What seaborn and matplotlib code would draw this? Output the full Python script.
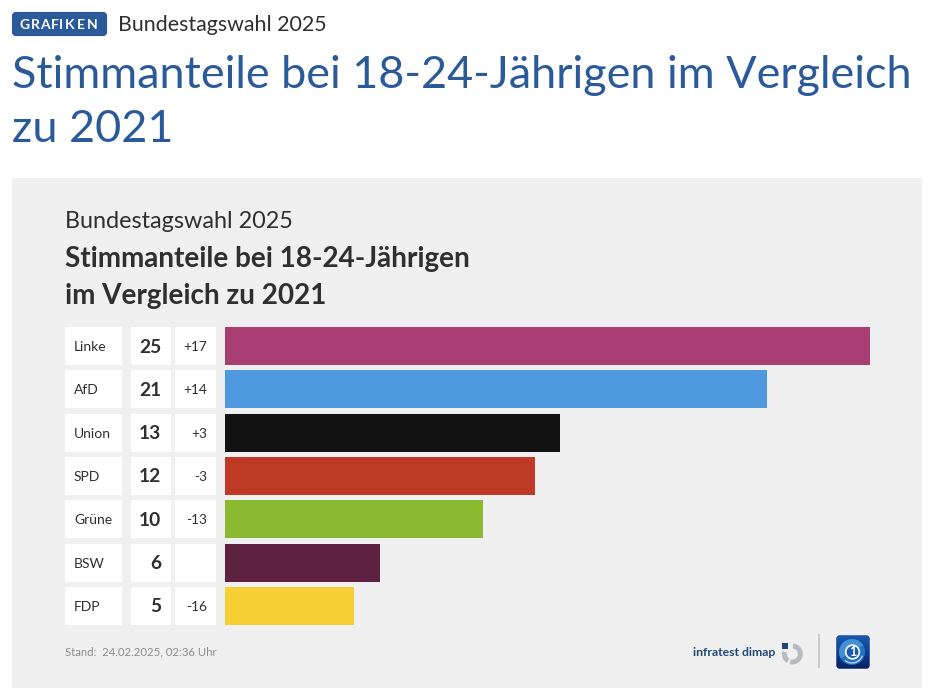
import numpy as np
import pandas as pd
import matplotlib
matplotlib.use("Agg")
import matplotlib.pyplot as plt
from matplotlib.patches import Rectangle, FancyBboxPatch, Circle, Wedge, Arc
import seaborn as sns

# Election results for 18-24 year olds
parties = ["Linke", "AfD", "Union", "SPD", "Grüne", "BSW", "FDP"]
shares = [25, 21, 13, 12, 10, 6, 5]
changes = ["+17", "+14", "+3", "-3", "-13", "", "-16"]
bar_colors = ["#a83e72", "#4f9ade", "#121212", "#bf3a25", "#8aba30", "#5e213f", "#f5cf33"]

overline = "Bundestagswahl 2025"
page_title = ["Stimmanteile bei 18-24-Jährigen im Vergleich", "zu 2021"]
chart_title = ["Stimmanteile bei 18-24-Jährigen", "im Vergleich zu 2021"]
stand = "Stand:  24.02.2025, 02:36 Uhr"

W, H = 933, 698
FONT = "Lato"
DARK = "#2f2f2f"
BLUE = "#2b5a9b"
PANEL = "#f0f0f0"

sns.set_theme(style="white")
plt.rcParams["font.family"] = [FONT, "DejaVu Sans"]

fig = plt.figure(figsize=(W / 100, H / 100), dpi=100, facecolor="white")

# Full-figure layer in pixel units for the page furniture
page = fig.add_axes([0, 0, 1, 1], zorder=0)
page.set_xlim(0, W)
page.set_ylim(H, 0)
page.axis("off")

page.add_patch(Rectangle((12, 178), 910, 510, fc=PANEL, ec="none"))

page.add_patch(FancyBboxPatch((14, 14), 91, 20, boxstyle="round,pad=0,rounding_size=2",
                              fc=BLUE, ec=BLUE, lw=3))
letters = "GRAFIKEN"
letter_x = [20, 30.7, 40, 50.7, 59, 64.7, 76.5, 86.5]
for ch, lx in zip(letters, letter_x):
    page.text(lx, 25, ch, color="white", fontsize=10, fontweight="bold", va="center", ha="left")
page.text(118, 25, overline, color=DARK, fontsize=15.4, va="center", ha="left")

page.text(12, 76, page_title[0], color=BLUE, fontsize=32.4, va="center", ha="left")
page.text(12, 130, page_title[1], color=BLUE, fontsize=32.4, va="center", ha="left")

page.text(65, 221, overline, color=DARK, fontsize=16.8, va="center", ha="left")
page.text(65, 259, chart_title[0], color=DARK, fontsize=20.1, fontweight="bold", va="center", ha="left")
page.text(65, 296, chart_title[1], color=DARK, fontsize=20.1, fontweight="bold", va="center", ha="left")

# Bars
ax_left, ax_right, ax_top, ax_bottom = 225, 870, 324.4, 627.6
ax = fig.add_axes([ax_left / W, 1 - ax_bottom / H, (ax_right - ax_left) / W, (ax_bottom - ax_top) / H],
                  zorder=1)
df = pd.DataFrame({"party": parties, "share": shares})
sns.barplot(data=df, x="share", y="party", hue="party", palette=bar_colors, order=parties,
            hue_order=parties, width=0.877, saturation=1, legend=False, linewidth=0, ax=ax)
ax.set_xlim(0, max(shares))
ax.set_ylim(len(parties) - 0.5, -0.5)
ax.axis("off")
ax.patch.set_alpha(0)

# Table cells next to each bar, aligned to the bar rows
row_px = (ax_bottom - ax_top) / len(parties)
for i, (party, share, change) in enumerate(zip(parties, shares, changes)):
    yc = ax_top + row_px * (i + 0.5)
    for x0, x1 in [(65, 122), (131, 171), (175, 216)]:
        page.add_patch(Rectangle((x0, yc - 19), x1 - x0, 38, fc="white", ec="none"))
    page.text(74, yc + 1, party, color=DARK, fontsize=10, va="center", ha="left")
    page.text(161, yc + 1, str(share), color=DARK, fontsize=13.8, fontweight="bold", va="center", ha="right")
    page.text(207, yc + 1, change, color=DARK, fontsize=9.8, va="center", ha="right")

# Footer
page.text(65, 651.5, stand, color="#8c8c8c", fontsize=8.2, va="center", ha="left")
page.text(693, 652, "infratest dimap", color="#1f4a78", fontsize=8.8, fontweight="bold",
          va="center", ha="left")

# Pollster mark: split ring with a small square
page.add_patch(Wedge((792.3, 654), 10.5, -85, 105, width=5, fc="#b6bdc1", ec="none"))
page.add_patch(Wedge((792.3, 654), 10.5, 122, 195, width=5, fc="#b6bdc1", ec="none"))
page.add_patch(Rectangle((782, 643), 5.5, 5.5, fc="#1f4a78", ec="none"))

page.plot([819, 819], [634, 668], color="#c9c9c9", lw=1.4, solid_capstyle="butt")

# Broadcaster mark: rounded blue square with a globe
box = FancyBboxPatch((836.5, 635.5), 33, 33, boxstyle="round,pad=0,rounding_size=3",
                     fc="#0d3f8c", ec="none", zorder=2)
page.add_patch(box)
shade = np.linspace(0, 1, 64)[:, None]
cmap = matplotlib.colors.LinearSegmentedColormap.from_list("badge", ["#1c5ab0", "#0f3f92", "#071f62"])
img = page.imshow(shade, extent=(836, 870, 669, 635), cmap=cmap, aspect="auto", zorder=3, origin="upper")
img.set_clip_path(box)
page.set_xlim(0, W)
page.set_ylim(H, 0)
globe = Circle((852, 652), 13, fc="#2f7fd0", ec="none", alpha=0.8, zorder=4)
page.add_patch(globe)
globe_sheen = Wedge((852, 652), 13, 150, 330, fc="#5aa8e6", ec="none", alpha=0.55, zorder=4)
page.add_patch(globe_sheen)
page.add_patch(Arc((852, 652), 22, 22, theta1=20, theta2=130, color="#bcdcf5", lw=0.9, zorder=5))
page.add_patch(Circle((852.5, 652), 6.8, fc="#1a5bb0", ec="#eaf3fb", lw=1.3, zorder=5))
page.text(852.5, 652.5, "1", color="white", fontsize=9, fontweight="bold", va="center", ha="center", zorder=6)

fig.savefig("out.png", dpi=100, facecolor="white")
